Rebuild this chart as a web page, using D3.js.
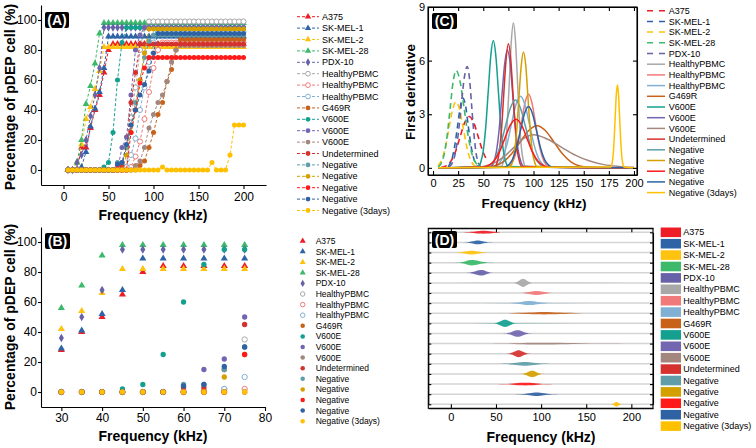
<!DOCTYPE html>
<html><head><meta charset="utf-8">
<script src="https://cdn.jsdelivr.net/npm/d3@7"></script>
<style>body{margin:0;background:#fff} svg{display:block}</style>
</head><body><svg id="c" width="756" height="448"></svg>
<script>
// ---------------- DATA ----------------
const seriesNames = ["A375","SK-MEL-1","SK-MEL-2","SK-MEL-28","PDX-10","HealthyPBMC","HealthyPBMC","HealthyPBMC","G469R","V600E","V600E","V600E","Undetermined","Negative","Negative","Negative","Negative","Negative (3days)"];

const freqA = [5,10,15,20,25,30,35,40,45,50,55,60,65,70,75,80,85,90,95,100,105,110,115,120,125,130,135,140,145,150,155,160,165,170,175,180,185,190,195,200];

const pdepA375   = [0,0,0,15,15,28,40,50,65,80, 84,84,84,84,84,84,84,84,84,84, 84,84,84,84,84,84,84,84,84,84, 84,84,84,84,84,84,84,84,84,84];
const pdepSKMEL1 = [0,0,0,2,12,29,41,52,68,89, 89,89,89,89,89,89,89,89,89,89, 89,89,89,89,89,89,89,89,89,89, 89,89,89,89,89,89,89,89,89,89];
const pdepSKMEL2 = [0,0,5,17,34,42,54,66,82,82, 82,82,82,82,82,82,82,82,82,82, 82,82,82,82,82,82,82,82,82,82, 82,82,82,82,82,82,82,82,82,82];
const pdepSKMEL28= [0,0,5,20,44,56,71,91,98,98, 98,98,98,98,98,98,98,98,98,98, 98,98,98,98,98,98,98,98,98,98, 98,98,98,98,98,98,98,98,98,98];
const pdepPDX10  = [0,0,5,10,20,36,50,68,95,95, 95,95,95,95,95,95,95,95,95,95, 95,95,95,95,95,95,95,95,95,95, 95,95,95,95,95,95,95,95,95,95];
const pdepHealthy1=[0,0,0,0,0,0,0,0,0,0, 0,0,1,2,35,55,80,95,99,99, 99,99,99,99,99,99,99,99,99,99, 99,99,99,99,99,99,99,99,99,99];
const pdepHealthy2=[0,0,0,0,0,0,0,0,0,0, 0,0,0,0,2,9,19,34,52,68, 80,85,85,85,85,85,85,85,85,85, 85,85,85,85,85,85,85,85,85,85];
const pdepHealthy3=[0,0,0,0,0,0,0,0,0,0, 0,0,0,2,10,21,40,55,72,85, 92,92,92,92,92,92,92,92,92,92, 92,92,92,92,92,92,92,92,92,92];
const pdepG469R  = [0,0,0,0,0,0,0,0,0,0, 0,0,0,0,0,0,3,6,15,25, 37,45,59,67,80,87,87,87,87,87, 87,87,87,87,87,87,87,87,87,87];
const pdepV600E1 = [0,0,0,0,0,0,0,0,2,5, 25,60,85,95,95,95,95,95,95,95, 95,95,95,95,95,95,95,95,95,95, 95,95,95,95,95,95,95,95,95,95];
const pdepV600E2 = [0,0,0,0,0,0,0,0,0,0, 0,0,15,22,50,80,90,95,95,95, 95,95,95,95,95,95,95,95,95,95, 95,95,95,95,95,95,95,95,95,95];
const pdepV600E3 = [0,0,0,0,0,0,0,0,0,0, 0,0,0,0,0,3,6,15,28,37, 45,50,59,72,80,83,83,83,83,83, 83,83,83,83,83,83,83,83,83,83];
const pdepUndet  = [0,0,0,0,0,0,0,0,0,0, 0,3,3,15,45,65,84,84,84,84, 84,84,84,84,84,84,84,84,84,84, 84,84,84,84,84,84,84,84,84,84];
const pdepNeg1   = [0,0,0,0,0,0,0,0,0,0, 0,5,5,15,30,45,60,75,86,90, 90,90,90,90,90,90,90,90,90,90, 90,90,90,90,90,90,90,90,90,90];
const pdepNeg2   = [0,0,0,0,0,0,0,0,0,0, 0,0,0,10,25,40,60,78,94,94, 94,94,94,94,94,94,94,94,94,94, 94,94,94,94,94,94,94,94,94,94];
const pdepNeg3   = [0,0,0,0,0,0,0,0,0,0, 0,0,0,0,25,40,58,68,75,75, 75,75,75,75,75,75,75,75,75,75, 75,75,75,75,75,75,75,75,75,75];
const pdepNeg4   = [0,0,0,0,0,0,0,0,0,0, 0,4,5,17,30,40,50,57,66,78, 91,91,91,91,91,91,91,91,91,91, 91,91,91,91,91,91,91,91,91,91];
const pdepNeg3d  = [0,0,0,0,0,0,0,0,0,0, 0,0,0,0,0,0,0,0,0,0, 0,2,0,0,0,0,0,0,0,0, 0,0,5,0,0,0,10,30,30,30];
const pdepValues = [pdepA375,pdepSKMEL1,pdepSKMEL2,pdepSKMEL28,pdepPDX10,pdepHealthy1,pdepHealthy2,pdepHealthy3,pdepG469R,pdepV600E1,pdepV600E2,pdepV600E3,pdepUndet,pdepNeg1,pdepNeg2,pdepNeg3,pdepNeg4,pdepNeg3d];

const zoomRangeB = [30,75];

// first derivative curves: [frequency kHz, value]
const dA375   = [[8,0.02],[13.5,0.13],[18,0.39],[22.5,0.93],[27,1.74],[31.5,2.53],[36,2.87],[40.5,2.53],[45,1.74],[49.5,0.93],[54,0.39]];
const dSKMEL1 = [[15,0.05],[16.5,0.2],[19,0.53],[21.5,1.2],[24.5,2.37],[27.2,3.44],[29.7,3.9],[32.5,3.44],[35,2.37],[37.7,1.27],[40.5,0.53],[43,0.17],[46,0.04]];
const dSKMEL2 = [[5,0.13],[9,0.5],[12.5,1.2],[16,2.25],[19.5,3.26],[23,3.7],[26.5,3.26],[30,2.25],[33.5,1.2],[37,0.5],[40.5,0.16],[44,0.04]];
const dSKMEL28= [[5,0.06],[8,0.24],[11,0.74],[14,1.77],[17,3.31],[20,4.81],[23,5.45],[27,4.81],[31,3.31],[35,1.77],[39,0.74],[43,0.24],[47,0.06]];
const dPDX10  = [[16,0.06],[19,0.25],[22,0.77],[25,1.84],[28,3.44],[31,5.0],[34,5.67],[36.3,5.0],[38.5,3.44],[40.8,1.84],[43,0.77],[45.3,0.25],[47.5,0.06]];
const dHealthy1=[[5,0],[68,0.09],[70,0.36],[72,1.1],[74,2.64],[76,4.92],[78,7.15],[80,8.11],[82,7.15],[84,4.92],[86,2.64],[88,1.1],[90,0.36],[92,0.09],[200,0]];
const dHealthy2=[[5,0],[74,0.05],[77.5,0.18],[81,0.56],[84.5,1.34],[88,2.5],[91.5,3.63],[95,4.12],[98.5,3.63],[102,2.5],[105.5,1.34],[109,0.56],[112.5,0.18],[116,0.05],[200,0]];
const dHealthy3=[[5,0],[60,0.04],[64.5,0.18],[69,0.54],[73.5,1.3],[78,2.43],[82.5,3.53],[87,4.0],[91.5,3.53],[96,2.43],[100.5,1.3],[105,0.54],[109.5,0.18],[114,0.04],[200,0]];
const dG469R  = [[5,0],[52.5,0.03],[61,0.1],[69.5,0.32],[78,0.77],[86.5,1.43],[95,2.08],[103.5,2.36],[112,2.08],[120.5,1.43],[129,0.77],[137.5,0.32],[146,0.1],[154.5,0.03],[200,0]];
const dV600E1 = [[5,0],[45,0.08],[47.5,0.31],[50,0.96],[52.5,2.31],[55,4.32],[57.5,6.28],[60,7.12],[62.5,6.28],[65,4.32],[67.5,2.31],[70,0.96],[72.5,0.31],[75,0.08],[200,0]];
const dV600E2 = [[5,0],[57.5,0.07],[60.3,0.29],[63,0.89],[65.8,2.14],[68.5,4.0],[71.3,5.82],[74,6.6],[76.8,5.82],[79.5,4.0],[82.3,2.14],[85,0.89],[87.8,0.29],[90.5,0.07],[200,0]];
const dV600E3 = [[5,0],[40,0.02],[50,0.08],[60,0.25],[70,0.6],[80,1.12],[90,1.63],[100,1.85],[114,1.6],[128,1.15],[142,0.7],[156,0.38],[170,0.18],[185,0.08],[200,0.03]];
const dUndet  = [[5,0],[61.5,0.08],[63.8,0.3],[66,0.94],[68.3,2.26],[70.5,4.21],[72.8,6.12],[75,6.94],[77.3,6.12],[79.5,4.21],[81.8,2.26],[84,0.94],[86.3,0.3],[88.5,0.08],[200,0]];
const dNeg1   = [[5,0],[52,0.04],[57,0.17],[62,0.51],[67,1.24],[72,2.31],[77,3.35],[82,3.8],[87,3.35],[92,2.31],[97,1.24],[102,0.51],[107,0.17],[112,0.04],[200,0]];
const dNeg2   = [[5,0],[76.5,0.07],[78.8,0.29],[81,0.87],[83.3,2.1],[85.5,3.93],[87.8,5.72],[90,6.48],[92.3,5.72],[94.5,3.93],[96.8,2.1],[99,0.87],[101.3,0.29],[103.5,0.07],[200,0]];
const dNeg3   = [[5,0],[49.5,0.03],[55,0.12],[60.5,0.37],[66,0.88],[71.5,1.65],[77,2.4],[82.5,2.72],[88,2.4],[93.5,1.65],[99,0.88],[104.5,0.37],[110,0.12],[115.5,0.03],[200,0]];
const dNeg4   = [[5,0],[71,0.04],[75,0.15],[79,0.46],[83,1.11],[87,2.08],[91,3.03],[95,3.43],[99,3.03],[103,2.08],[107,1.11],[111,0.46],[115,0.15],[119,0.04],[200,0]];
const dNeg3d  = [[5,0],[177,0.05],[178,0.2],[179.1,0.63],[180.2,1.52],[181.3,2.83],[182.4,4.1],[183.5,4.65],[184.6,4.1],[185.7,2.83],[186.8,1.52],[187.9,0.63],[189,0.2],[190,0.05],[200,0]];
const derivCurves = [dA375,dSKMEL1,dSKMEL2,dSKMEL28,dPDX10,dHealthy1,dHealthy2,dHealthy3,dG469R,dV600E1,dV600E2,dV600E3,dUndet,dNeg1,dNeg2,dNeg3,dNeg4,dNeg3d];

const xTicksA = [0,50,100,150,200];
const yTicksPct = [0,20,40,60,80,100];
const xTicksB = [30,40,50,60,70,80];
const xTicksC = [0,25,50,75,100,125,150,175,200];
const yTicksC = [0,3,6,9];
const xTicksD = [0,50,100,150,200];

// ---------------- STYLE ----------------
const seriesColors = ["#ee1c25","#2e64a6","#ffc20e","#3cb96a","#6762a8","#a8a8a8","#f07a7a","#80b0d4","#c8621a","#14a08f","#7366b0","#a3877e","#d5312e","#5f9ea8","#d4a000","#ff1a1a","#2f62a2","#ffc000"];
const markerKind = ["tri","tri","tri","tri","dia","open","open","open","dot","dot","dot","dot","dot","dot","dot","dot","dot","dot"];
const dashedC = [true,true,true,true,true,false,false,false,false,false,false,false,false,false,false,false,false,false];
const FONT = '"Liberation Sans", Arial, Helvetica, sans-serif';

const svg = d3.select("#c");
const n = seriesNames.length;

function styleAxis(sel, fs){
  sel.selectAll("text").attr("font-size", fs).attr("font-family", FONT).attr("fill", "#000");
  sel.selectAll("line,path").attr("stroke", "#000").attr("stroke-width", 1.1);
}
function symbolFor(i, size){
  const k = markerKind[i];
  const t = k === "tri" ? d3.symbolTriangle : k === "dia" ? d3.symbolDiamond : d3.symbolCircle;
  return d3.symbol().type(t).size(size)();
}
function drawMarker(g, i, x, y, size){
  const open = markerKind[i] === "open";
  g.append("path").attr("d", symbolFor(i, size)).attr("transform", `translate(${x},${y})`)
    .attr("fill", open ? "#fff" : seriesColors[i])
    .attr("stroke", open ? seriesColors[i] : "none").attr("stroke-width", 1);
}
function panelLabel(x, y, w, h, t){
  svg.append("rect").attr("x", x).attr("y", y).attr("width", w).attr("height", h).attr("rx", 2).attr("fill", "#000");
  svg.append("text").attr("x", x + w/2).attr("y", y + h/2).attr("dy", "0.36em").attr("text-anchor", "middle")
    .attr("font-family", FONT).attr("font-weight", "bold").attr("font-size", 14).attr("fill", "#fff").text(t);
}
function title(x, y, t, fs, rot){
  svg.append("text").attr("transform", `translate(${x},${y})` + (rot ? " rotate(-90)" : ""))
    .attr("text-anchor", "middle").attr("dy", "0.35em").attr("font-family", FONT)
    .attr("font-weight", "bold").attr("font-size", fs).text(t);
}

// ---------------- PANEL A ----------------
const xA = d3.scaleLinear().domain([-25,225]).range([41,266]);
const yA = d3.scaleLinear().domain([-10,110]).range([185,5]);
const gA = svg.append("g");
for (let i = 0; i < n; i++){
  const pts = freqA.map((f, j) => [f, pdepValues[i][j]]);
  gA.append("path").attr("d", d3.line().x(d => xA(d[0])).y(d => yA(d[1]))(pts))
    .attr("fill", "none").attr("stroke", seriesColors[i]).attr("stroke-width", 1).attr("stroke-dasharray", "3,2");
  pts.forEach(d => drawMarker(gA, i, xA(d[0]), yA(d[1]), 20));
}
styleAxis(gA.append("g").attr("transform", `translate(0,${yA.range()[0]})`)
  .call(d3.axisBottom(xA).tickValues(xTicksA).tickSize(4).tickSizeOuter(0).tickPadding(3)), 12);
styleAxis(gA.append("g").attr("transform", `translate(${xA.range()[0]},0)`)
  .call(d3.axisLeft(yA).tickValues(yTicksPct).tickSize(3).tickSizeOuter(0).tickPadding(1)), 12);
title(153, 215, "Frequency (kHz)", 14);
title(10, 97, "Percentage of pDEP cell (%)", 14, true);
panelLabel(45, 12, 24, 16, "(A)");
// legend A
const legA = svg.append("g");
seriesNames.forEach((s, i) => {
  const y = 16.7 + i * 11.4;
  legA.append("line").attr("x1", 297).attr("x2", 319).attr("y1", y).attr("y2", y)
    .attr("stroke", seriesColors[i]).attr("stroke-width", 1).attr("stroke-dasharray", "3,2");
  drawMarker(legA, i, 308, y, 18);
  legA.append("text").attr("x", 322).attr("y", y).attr("dy", "0.35em").attr("font-family", FONT)
    .attr("font-size", 9).text(s);
});

// ---------------- PANEL B ----------------
const xB = d3.scaleLinear().domain([25,80]).range([41,265]);
const yB = d3.scaleLinear().domain([-10,110]).range([407,227]);
const gB = svg.append("g");
for (let i = 0; i < n; i++){
  freqA.forEach((f, j) => {
    if (f >= zoomRangeB[0] && f <= zoomRangeB[1]) drawMarker(gB, i, xB(f), yB(pdepValues[i][j]), 22);
  });
}
styleAxis(gB.append("g").attr("transform", `translate(0,${yB.range()[0]})`)
  .call(d3.axisBottom(xB).tickValues(xTicksB).tickSize(4).tickSizeOuter(0).tickPadding(2)), 12);
styleAxis(gB.append("g").attr("transform", `translate(${xB.range()[0]},0)`)
  .call(d3.axisLeft(yB).tickValues(yTicksPct).tickSize(3).tickSizeOuter(0).tickPadding(1)), 12);
title(153, 436, "Frequency (kHz)", 14);
title(10, 317, "Percentage of pDEP cell (%)", 14, true);
panelLabel(45, 233, 25, 16, "(B)");
const legB = svg.append("g");
seriesNames.forEach((s, i) => {
  const y = 241 + i * 10.6;
  drawMarker(legB, i, 302.7, y, 16);
  legB.append("text").attr("x", 315.7).attr("y", y).attr("dy", "0.35em").attr("font-family", FONT)
    .attr("font-size", 8.5).text(s);
});

// ---------------- PANEL C ----------------
const xC = d3.scaleLinear().domain([-5,203]).range([428,637]);
const yC = d3.scaleLinear().domain([-0.4,9]).range([175,7]);
const gC = svg.append("g");
svg.append("clipPath").attr("id", "clipC").append("rect")
  .attr("x", 428).attr("y", 7).attr("width", 209).attr("height", 168);
const gCc = gC.append("g").attr("clip-path", "url(#clipC)");
const lineC = d3.line().x(d => xC(d[0])).y(d => yC(d[1])).curve(d3.curveMonotoneX);
for (let i = 0; i < n; i++){
  gCc.append("path").attr("d", lineC(derivCurves[i])).attr("fill", "none")
    .attr("stroke", seriesColors[i]).attr("stroke-width", dashedC[i] ? 1.6 : 1.5)
    .attr("stroke-dasharray", dashedC[i] ? "6,4" : null);
}
styleAxis(gC.append("g").attr("transform", "translate(0,175)")
  .call(d3.axisBottom(xC).tickValues(xTicksC).tickSize(-4).tickSizeOuter(0).tickPadding(4)), 11);
styleAxis(gC.append("g").attr("transform", "translate(428,0)")
  .call(d3.axisLeft(yC).tickValues(yTicksC).tickSize(-4).tickSizeOuter(0).tickPadding(3)), 11);
styleAxis(gC.append("g").attr("transform", "translate(0,7)")
  .call(d3.axisTop(xC).tickValues(xTicksC).tickSize(-4).tickSizeOuter(0).tickFormat("")), 11);
styleAxis(gC.append("g").attr("transform", "translate(637,0)")
  .call(d3.axisRight(yC).tickValues(yTicksC).tickSize(-4).tickSizeOuter(0).tickFormat("")), 11);
gC.append("rect").attr("x", 428).attr("y", 7).attr("width", 209).attr("height", 168)
  .attr("fill", "none").attr("stroke", "#000").attr("stroke-width", 1.1);
title(534, 203, "Frequency (kHz)", 13.5);
title(410, 92, "First derivative", 13.5, true);
panelLabel(432, 13, 25, 16, "(C)");
const legC = svg.append("g");
seriesNames.forEach((s, i) => {
  const y = 10.7 + i * 10.7;
  legC.append("line").attr("x1", 647).attr("x2", 665).attr("y1", y).attr("y2", y)
    .attr("stroke", seriesColors[i]).attr("stroke-width", 1.5).attr("stroke-dasharray", dashedC[i] ? "6,6" : null);
  legC.append("text").attr("x", 668.7).attr("y", y).attr("dy", "0.35em").attr("font-family", FONT)
    .attr("font-size", 9).text(s);
});

// ---------------- PANEL D ----------------
const xD = d3.scaleLinear().domain([-25,224]).range([428.3,653]);
const rowD = d3.scalePoint().domain(d3.range(n)).range([232.3,404.3]);
const gD = svg.append("g");
const dTop = 228.3, dBot = 408.3;
for (let i = 0; i < n; i++){
  gD.append("line").attr("x1", 428.3).attr("x2", 653).attr("y1", rowD(i)).attr("y2", rowD(i))
    .attr("stroke", "#d4d4d4").attr("stroke-width", 1.5);
}
const violinK = 0.5;
for (let i = 0; i < n; i++){
  const r = rowD(i);
  const area = d3.area().x(d => xD(d[0])).y0(d => r - d[1] * violinK).y1(d => r + d[1] * violinK)
    .curve(d3.curveMonotoneX);
  gD.append("path").attr("d", area(derivCurves[i])).attr("fill", seriesColors[i]).attr("fill-opacity", 0.92);
}
styleAxis(gD.append("g").attr("transform", `translate(0,${dBot})`)
  .call(d3.axisBottom(xD).tickValues(xTicksD).tickSize(-4).tickSizeOuter(0).tickPadding(5)), 11);
styleAxis(gD.append("g").attr("transform", `translate(0,${dTop})`)
  .call(d3.axisTop(xD).tickValues(xTicksD).tickSize(-4).tickSizeOuter(0).tickFormat("")), 11);
styleAxis(gD.append("g").attr("transform", "translate(428.3,0)")
  .call(d3.axisLeft(rowD).tickSize(-3).tickSizeOuter(0).tickFormat("")), 11);
styleAxis(gD.append("g").attr("transform", "translate(653,0)")
  .call(d3.axisRight(rowD).tickSize(-3).tickSizeOuter(0).tickFormat("")), 11);
gD.append("rect").attr("x", 428.3).attr("y", dTop).attr("width", 653 - 428.3).attr("height", dBot - dTop)
  .attr("fill", "none").attr("stroke", "#000").attr("stroke-width", 1.1);
title(541, 437, "Frequency (kHz)", 14);
panelLabel(432, 231, 25, 17, "(D)");
const legD = svg.append("g");
seriesNames.forEach((s, i) => {
  const y = 232.3 + i * 11.4;
  legD.append("rect").attr("x", 660.7).attr("y", y - 4.8).attr("width", 20.3).attr("height", 9.6)
    .attr("fill", seriesColors[i]);
  legD.append("text").attr("x", 683.3).attr("y", y).attr("dy", "0.35em").attr("font-family", FONT)
    .attr("font-size", 9).text(s);
});
</script></body></html>
